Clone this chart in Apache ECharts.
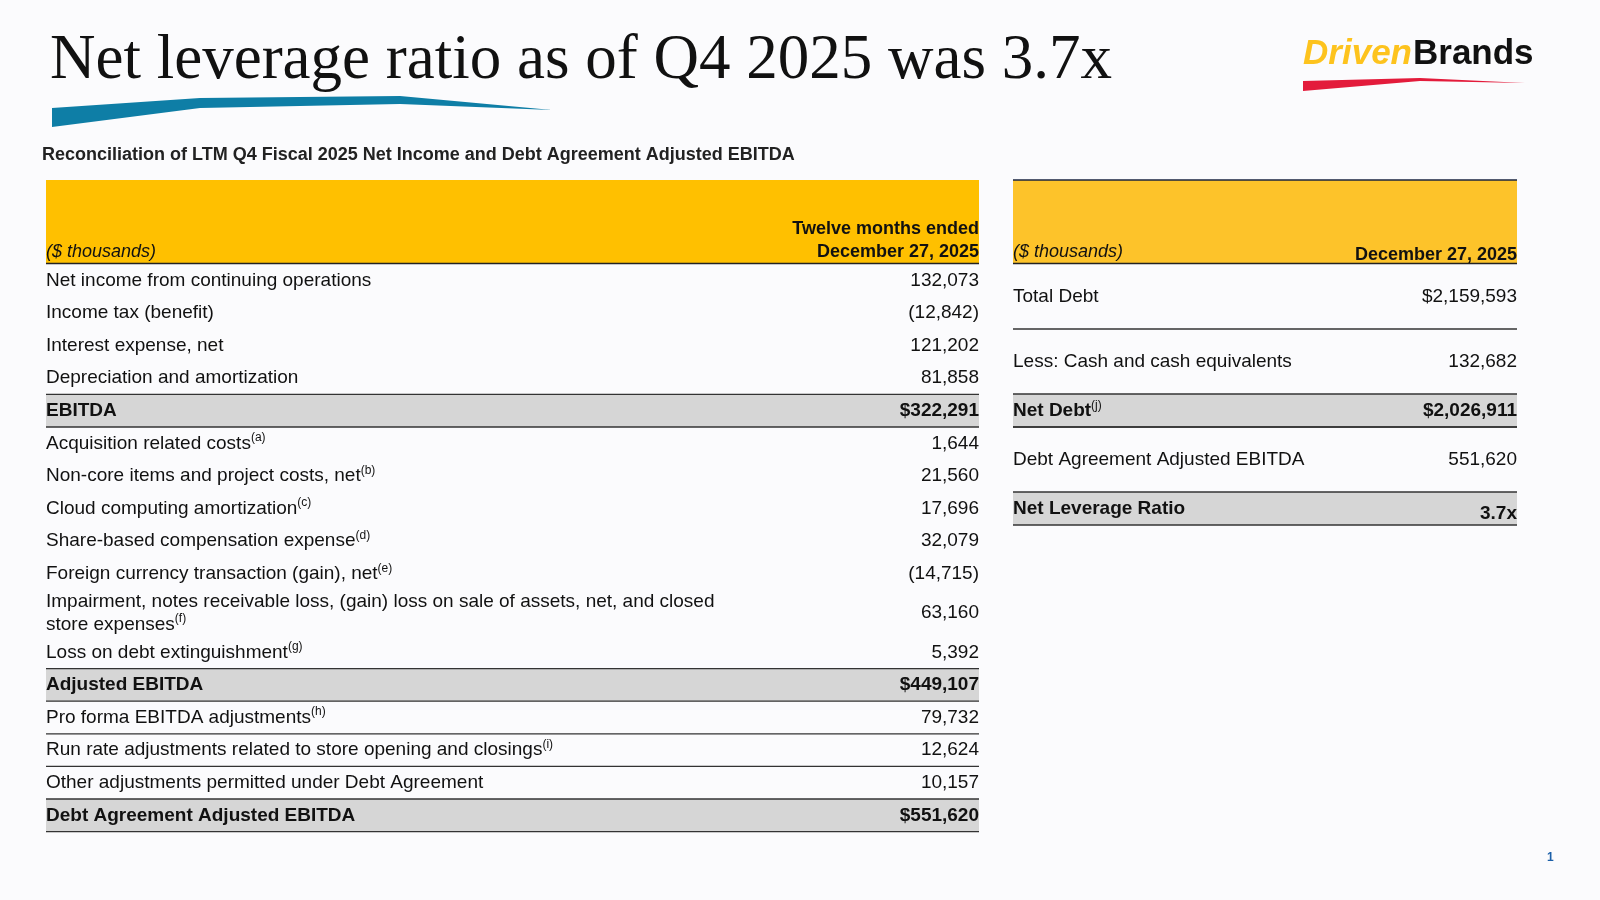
<!DOCTYPE html>
<html><head><meta charset="utf-8">
<script src="https://cdn.jsdelivr.net/npm/echarts@6/dist/echarts.min.js"></script>
<style>html,body{margin:0;padding:0;background:#fbfbfd}#c{width:1600px;height:900px}</style>
</head><body><div id="c"></div>
<script>
const leftLabels = ["Net income from continuing operations","Income tax (benefit)","Interest expense, net","Depreciation and amortization","EBITDA","Acquisition related costs","Non-core items and project costs, net","Cloud computing amortization","Share-based compensation expense","Foreign currency transaction (gain), net","Impairment, notes receivable loss, (gain) loss on sale of assets, net, and closed\nstore expenses","Loss on debt extinguishment","Adjusted EBITDA","Pro forma EBITDA adjustments","Run rate adjustments related to store opening and closings","Other adjustments permitted under Debt Agreement","Debt Agreement Adjusted EBITDA"];
const leftSup = ["","","","","","(a)","(b)","(c)","(d)","(e)","(f)","(g)","","(h)","(i)","",""];
const leftValues = ["132,073","(12,842)","121,202","81,858","$322,291","1,644","21,560","17,696","32,079","(14,715)","63,160","5,392","$449,107","79,732","12,624","10,157","$551,620"];
const leftBold = [0,0,0,0,1,0,0,0,0,0,0,0,1,0,0,0,1];
const leftRuleAbove = [0,0,0,0,1,1,0,0,0,0,0,0,1,1,1,1,1];
const rightLabels = ["Total Debt","Less: Cash and cash equivalents","Net Debt","Debt Agreement Adjusted EBITDA","Net Leverage Ratio"];
const rightSup = ["","","(j)","",""];
const rightValues = ["$2,159,593","132,682","$2,026,911","551,620","3.7x"];
const rightBold = [0,0,1,0,1];
const rightHeights = [65,65,33,65,33];

const F = "Liberation Sans, Arial, sans-serif";
const g = [];
g.push({type:'text',left:50,top:30,style:{text:'Net leverage ratio as of Q4 2025 was 3.7x',font:'63px "Liberation Serif", serif',fill:'#111'}});
g.push({type:'polygon',shape:{points:[[52,108],[200,98],[400,96],[552,110],[400,104],[200,108],[52,127]]},style:{fill:'#0e7ea6'}});
g.push({type:'text',x:1412,y:72,style:{text:'Driven',font:'italic bold 35px '+F,fill:'#fdc31e',align:'right',verticalAlign:'bottom'}});
g.push({type:'text',x:1413,y:72,style:{text:'Brands',font:'bold 35px '+F,fill:'#111',align:'left',verticalAlign:'bottom'}});
g.push({type:'polygon',shape:{points:[[1303,81],[1420,78],[1525,83],[1420,81],[1303,91]]},style:{fill:'#e31b3b'}});
g.push({type:'text',left:42,top:146,style:{text:'Reconciliation of LTM Q4 Fiscal 2025 Net Income and Debt Agreement Adjusted EBITDA',font:'bold 18px '+F,fill:'#222'}});
g.push({type:'text',left:1547,top:852,style:{text:'1',font:'bold 12px '+F,fill:'#1b5fa8'}});

function sup(label, s){ return s ? label+'{s|'+s+'}' : label; }
const richS = {s:{fontSize:12,verticalAlign:'top',padding:[0,0,10,0],fontFamily:F,fill:'#111'}};
const L0=46,L1=979;
g.push({type:'rect',shape:{x:L0,y:180,width:L1-L0,height:83},style:{fill:'#ffc000'}});
g.push({type:'line',shape:{x1:L0,y1:263.5,x2:L1,y2:263.5},style:{stroke:'#222',lineWidth:1.5}});
g.push({type:'text',left:L0,top:243,style:{text:'($ thousands)',font:'italic 18px '+F,fill:'#111'}});
g.push({type:'text',x:L1,y:264,style:{text:'Twelve months ended\nDecember 27, 2025',font:'bold 18px '+F,fill:'#111',align:'right',verticalAlign:'bottom',lineHeight:23}});
let y=264;
leftLabels.forEach((lab,i)=>{
  const h = lab.includes('\n')?46:32.6;
  if(leftBold[i]) g.push({type:'rect',shape:{x:L0,y:y,width:L1-L0,height:h},style:{fill:'#d6d6d6'}});
  if(leftRuleAbove[i]) g.push({type:'line',shape:{x1:L0,y1:y,x2:L1,y2:y},style:{stroke:'#333',lineWidth:1.3}});
  if(leftBold[i]&&i==leftLabels.length-1) g.push({type:'line',shape:{x1:L0,y1:y+h,x2:L1,y2:y+h},style:{stroke:'#333',lineWidth:1.3}});
  const fw = leftBold[i]?'bold ':'';
  g.push({type:'text',x:L0,y:y+h/2,style:{text:sup(lab,leftSup[i]),font:fw+'19px '+F,fill:'#111',verticalAlign:'middle',lineHeight:23,rich:richS}});
  g.push({type:'text',x:L1,y:y+h/2,style:{text:leftValues[i],font:fw+'19px '+F,fill:'#111',align:'right',verticalAlign:'middle'}});
  y+=h;
});
const R0=1013,R1=1517;
g.push({type:'rect',shape:{x:R0,y:180,width:R1-R0,height:83},style:{fill:'#fdc32a'}});
g.push({type:'line',shape:{x1:R0,y1:180,x2:R1,y2:180},style:{stroke:'#1a2540',lineWidth:1.5}});
g.push({type:'line',shape:{x1:R0,y1:263.5,x2:R1,y2:263.5},style:{stroke:'#222',lineWidth:1.5}});
g.push({type:'text',left:R0,top:243,style:{text:'($ thousands)',font:'italic 18px '+F,fill:'#111'}});
g.push({type:'text',x:R1,y:264,style:{text:'December 27, 2025',font:'bold 18px '+F,fill:'#111',align:'right',verticalAlign:'bottom'}});
y=264;
rightLabels.forEach((lab,i)=>{
  const h=rightHeights[i];
  if(rightBold[i]) g.push({type:'rect',shape:{x:R0,y:y,width:R1-R0,height:h},style:{fill:'#d6d6d6'}});
  if(i>0) g.push({type:'line',shape:{x1:R0,y1:y,x2:R1,y2:y},style:{stroke:'#333',lineWidth:1.3}});
  if(rightBold[i]) g.push({type:'line',shape:{x1:R0,y1:y+h,x2:R1,y2:y+h},style:{stroke:'#333',lineWidth:1.3}});
  const fw = rightBold[i]?'bold ':'';
  const vy = i==rightLabels.length-1? y+h/2+5 : y+h/2;
  g.push({type:'text',x:R0,y:y+h/2,style:{text:sup(lab,rightSup[i]),font:fw+'19px '+F,fill:'#111',verticalAlign:'middle',rich:richS}});
  g.push({type:'text',x:R1,y:vy,style:{text:rightValues[i],font:fw+'19px '+F,fill:'#111',align:'right',verticalAlign:'middle'}});
  y+=h;
});
const chart = echarts.init(document.getElementById('c'));
chart.setOption({backgroundColor:'#fbfbfd',graphic:{elements:g}});
</script></body></html>
